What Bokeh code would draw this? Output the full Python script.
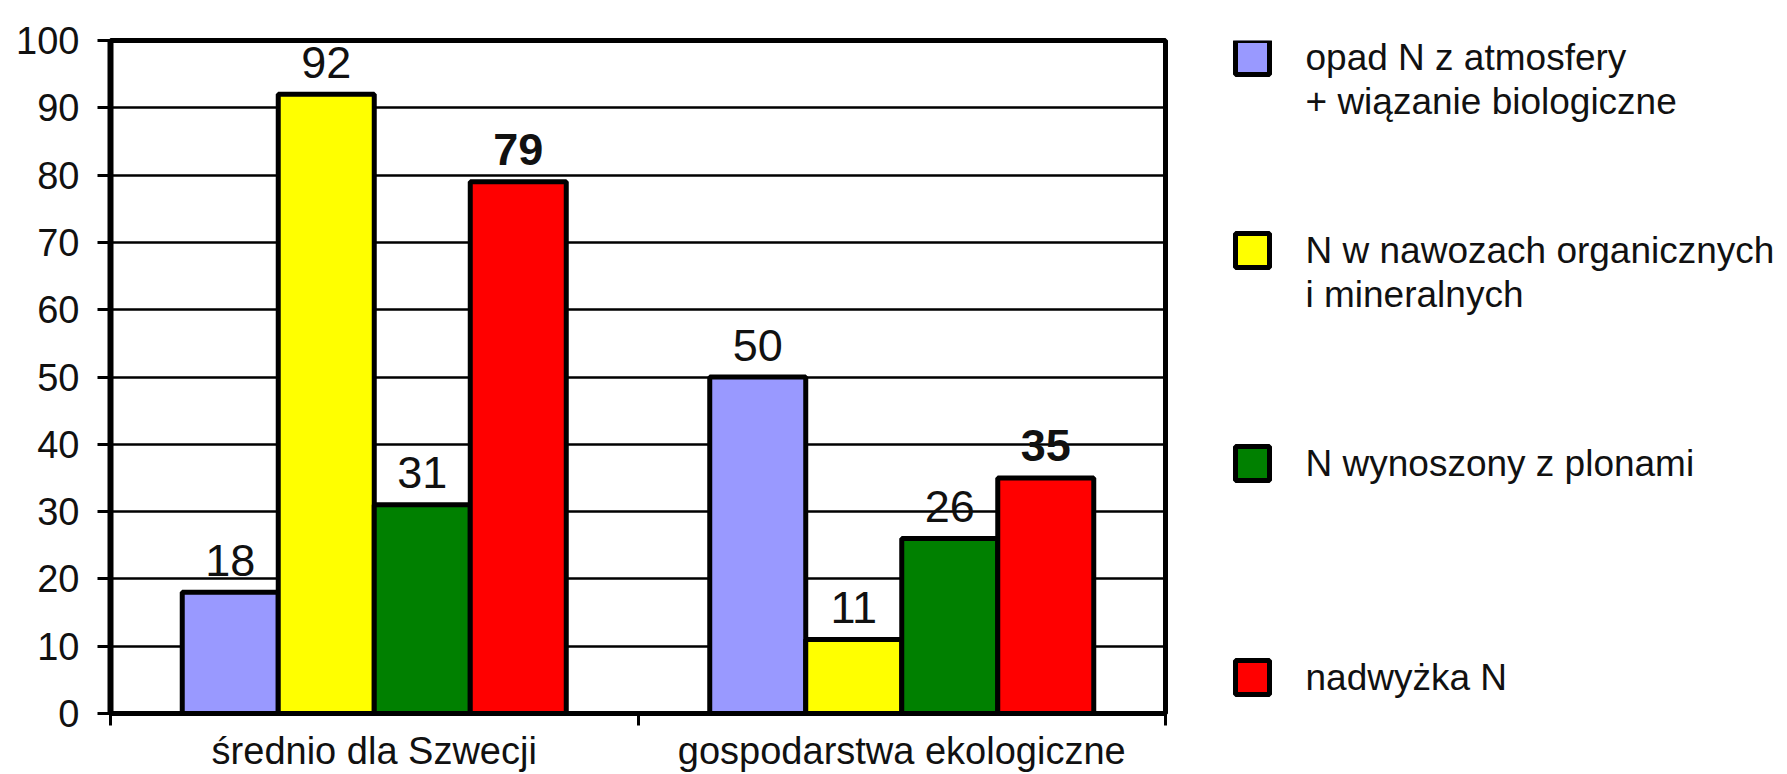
from bokeh.plotting import figure
from bokeh.models import ColumnDataSource, Range1d, FactorRange, LinearAxis, FixedTicker
from bokeh.layouts import row
from bokeh.transform import dodge
from bokeh.core.properties import value
from bokeh.embed import file_html
from bokeh.resources import INLINE

# ---- data ----
categories = ["średnio dla Szwecji", "gospodarstwa ekologiczne"]
series_names = [
    "opad N z atmosfery\n+ wiązanie biologiczne",
    "N w nawozach organicznych\ni mineralnych",
    "N wynoszony z plonami",
    "nadwyżka N",
]
series_colors = ["#9999FF", "#FFFF00", "#008000", "#FF0000"]
opad_biologiczne = [18, 50]
nawozy = [92, 11]
wynoszony = [31, 26]
nadwyzka = [79, 35]
series_values = [opad_biologiczne, nawozy, wynoszony, nadwyzka]
series_bold = [False, False, False, True]
y_ticks = [0, 10, 20, 30, 40, 50, 60, 70, 80, 90, 100]

FONT = "Liberation Sans"
TXT = "#111111"

# ---- main chart ----
p = figure(
    x_range=FactorRange(*categories, range_padding=0),
    y_range=Range1d(0, 100),
    width=1200, height=774,
    output_backend="svg", toolbar_location=None,
    x_axis_location=None,
    min_border_left=110, min_border_right=35,
    min_border_top=40, min_border_bottom=61,
)
p.background_fill_color = "white"
p.border_fill_color = "white"
p.outline_line_color = "black"
p.outline_line_width = 5
p.xgrid.visible = False

# y axis
ya = p.yaxis[0]
ya.ticker = FixedTicker(ticks=y_ticks)
ya.axis_line_width = 6
ya.axis_line_color = "black"
ya.major_tick_out = 13
ya.major_tick_in = 0
ya.major_tick_line_width = 3
ya.minor_tick_out = 0
ya.minor_tick_in = 0
ya.major_label_standoff = 18
ya.major_label_text_font = FONT
ya.major_label_text_font_size = "38px"
ya.major_label_text_color = TXT

p.ygrid.grid_line_color = "black"
p.ygrid.grid_line_width = 2.5
p.ygrid.ticker = FixedTicker(ticks=y_ticks)

# x axis: boundary ticks + centred category labels (synthetic categorical coords)
xa = LinearAxis()
centres = [i + 0.5 for i in range(len(categories))]
xa.ticker = FixedTicker(ticks=centres, minor_ticks=list(range(len(categories) + 1)))
xa.major_label_overrides = {c: name for c, name in zip(centres, categories)}
xa.axis_line_width = 5
xa.axis_line_color = "black"
xa.major_tick_out = 0
xa.major_tick_in = 0
xa.minor_tick_out = 12
xa.minor_tick_in = 0
xa.minor_tick_line_width = 3
xa.major_label_standoff = 4
xa.major_label_text_font = FONT
xa.major_label_text_font_size = "38px"
xa.major_label_text_color = TXT
p.add_layout(xa, "below")

n = len(series_values)
bar_w = 0.182
offsets = [(i - (n - 1) / 2) * bar_w for i in range(n)]

for vals, col, off, bold in zip(series_values, series_colors, offsets, series_bold):
    src = ColumnDataSource(dict(cat=categories, val=vals, lab=[str(v) for v in vals]))
    p.vbar(x=dodge("cat", off, range=p.x_range), top="val", bottom=0, width=bar_w,
           source=src, fill_color=col, line_color="black", line_width=5)
    p.text(x=dodge("cat", off, range=p.x_range), y="val", text="lab", source=src,
           text_font=value(FONT), text_font_size="45px",
           text_font_style="bold" if bold else "normal",
           text_color=TXT, text_align="center", text_baseline="alphabetic",
           y_offset=-32)

# ---- legend panel (its frame is aligned with the main frame: page px 40..713) ----
lg = figure(
    width=587, height=774,
    x_range=Range1d(1200, 1787), y_range=Range1d(713, 40),
    output_backend="svg", toolbar_location=None,
    x_axis_location=None, y_axis_location=None,
    min_border=0,
)
lg.outline_line_color = None
lg.grid.visible = False
lg.background_fill_color = "white"
lg.border_fill_color = "white"

item_y = [57, 250, 463, 677]
lg.rect(x=[1252] * n, y=item_y, width=34, height=34, fill_color=series_colors,
        line_color="black", line_width=5)
tx, ty, tt = [], [], []
for name, yy in zip(series_names, item_y):
    for k, line in enumerate(name.split("\n")):
        tx.append(1305)
        ty.append(yy + k * 44)
        tt.append(line)
lg.text(x=tx, y=ty, text=tt, text_font=value(FONT), text_font_size="37px",
        text_color=TXT, text_align="left", text_baseline="middle")

layout = row(p, lg)
open("out.html", "w").write(file_html(layout, INLINE))
